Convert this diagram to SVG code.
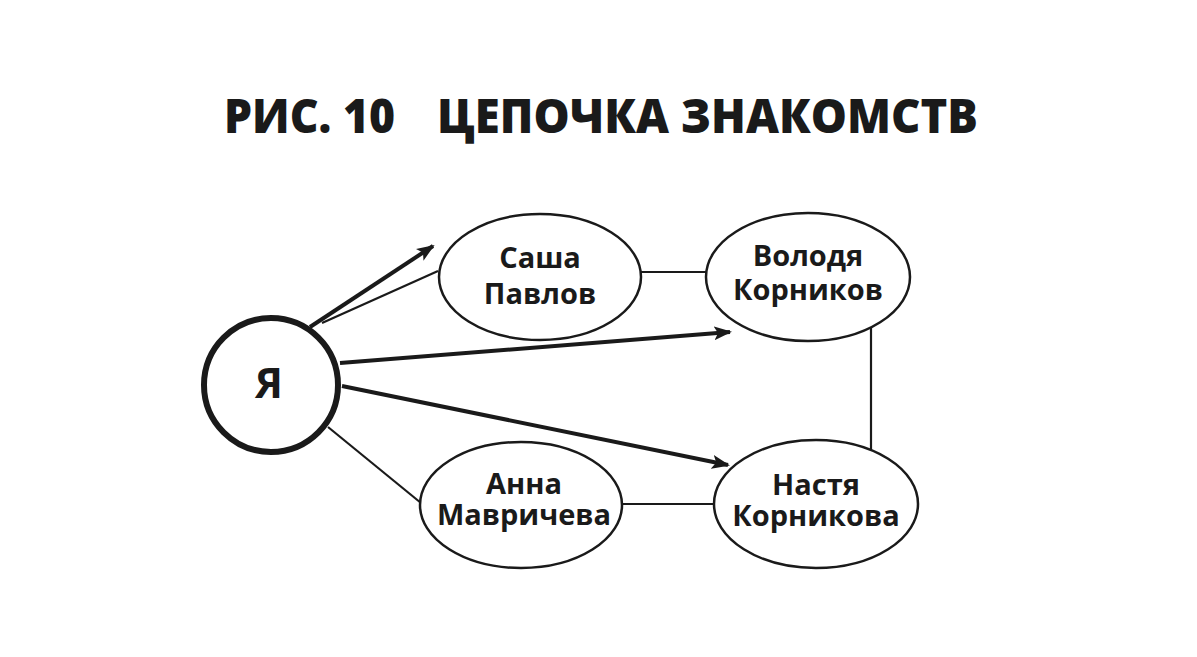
<svg xmlns="http://www.w3.org/2000/svg" width="1197" height="657" viewBox="0 0 1197 657">
<style>
.node{fill:#fff;stroke:#1a1a1a;stroke-width:2.5}
.lbl{font-family:"Open Sans","Noto Sans","DejaVu Sans",sans-serif;font-weight:700;font-size:29px;fill:#1a1a1a;text-anchor:middle}
.thin{stroke:#1a1a1a;stroke-width:2.2;fill:none}
.thick{stroke:#1a1a1a;stroke-width:4;fill:none}
.title{font-family:"Open Sans","Noto Sans","DejaVu Sans",sans-serif;font-weight:800;font-size:47px;fill:#1a1a1a}
</style>
<defs>
<marker id="arr" markerUnits="userSpaceOnUse" markerWidth="18" markerHeight="14" refX="16" refY="7" orient="auto">
<path d="M0,0 L18,7 L0,14 L4,7 z" fill="#1a1a1a"/>
</marker>
</defs>
<rect width="1197" height="657" fill="#fff"/>
<g id="title">
<text class="title" x="224" y="133" textLength="171" lengthAdjust="spacingAndGlyphs">РИС. 10</text>
<text class="title" x="437" y="133" textLength="541" lengthAdjust="spacingAndGlyphs">ЦЕПОЧКА ЗНАКОМСТВ</text>
</g>
<g id="connectors">
<line class="thin" x1="322" y1="323" x2="438" y2="271"/>
<line class="thick" x1="310" y1="327" x2="433" y2="246" marker-end="url(#arr)"/>
<line class="thick" x1="340" y1="363" x2="730" y2="332" marker-end="url(#arr)"/>
<line class="thick" x1="342" y1="386" x2="728" y2="465" marker-end="url(#arr)"/>
<line class="thin" x1="328" y1="427" x2="421" y2="503"/>
<line class="thin" x1="641" y1="272" x2="706" y2="272"/>
<line class="thin" x1="623" y1="504" x2="714" y2="504"/>
<line class="thin" x1="871" y1="327" x2="871" y2="449"/>
</g>
<g id="me">
<circle cx="271" cy="385" r="67" fill="#fff" stroke="#1a1a1a" stroke-width="6"/>
<text class="lbl" x="269" y="398" style="font-size:42px">Я</text>
</g>
<g id="sasha">
<ellipse class="node" cx="540" cy="277" rx="101" ry="63"/>
<text class="lbl" x="540" y="268">Саша</text>
<text class="lbl" x="540" y="304">Павлов</text>
</g>
<g id="volodya">
<ellipse class="node" cx="808" cy="277" rx="102" ry="64"/>
<text class="lbl" x="808" y="266">Володя</text>
<text class="lbl" x="808" y="300">Корников</text>
</g>
<g id="anna">
<ellipse class="node" cx="521" cy="505" rx="101" ry="63"/>
<text class="lbl" x="524" y="494">Анна</text>
<text class="lbl" x="524" y="525">Мавричева</text>
</g>
<g id="nastya">
<ellipse class="node" cx="816" cy="504" rx="102" ry="64"/>
<text class="lbl" x="816" y="495">Настя</text>
<text class="lbl" x="816" y="526">Корникова</text>
</g>
</svg>
